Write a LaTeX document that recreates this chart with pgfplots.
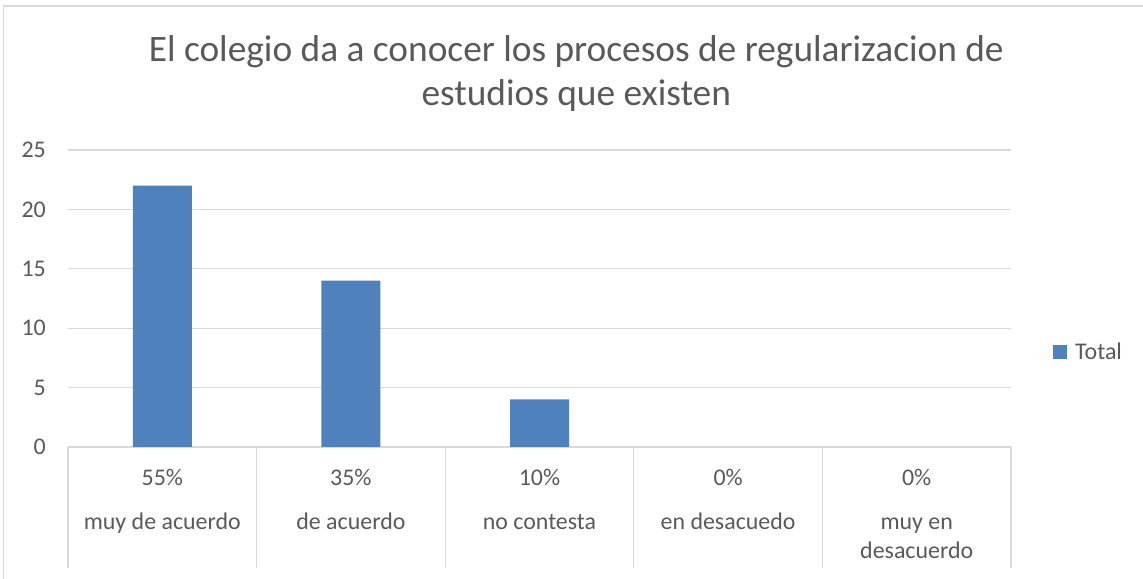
\documentclass[border=0pt]{standalone}
\usepackage{pgfplots}
\pgfplotsset{compat=1.18}
\usepackage{fontspec}
\setmainfont{Carlito}
\definecolor{txt}{HTML}{595959}
\definecolor{grd}{HTML}{D9D9D9}
\definecolor{barc}{HTML}{4F81BD}
\begin{document}
\begin{tikzpicture}
\useasboundingbox (0bp,0bp) rectangle (1143bp,579bp);
\draw[grd,line width=1.2bp] (3.5bp,0bp) -- (3.5bp,573bp) -- (1143bp,573bp);
\begin{axis}[
  at={(68bp,132bp)}, anchor=south west,
  scale only axis, width=943bp, height=297bp,
  xmin=-0.5, xmax=4.5, ymin=0, ymax=25,
  ytick={0,5,...,25},
  xtick={0,1,2,3,4},
  xticklabels={
    {55\%\\[15bp]muy de acuerdo},
    {35\%\\[15bp]de acuerdo},
    {10\%\\[15bp]no contesta},
    {0\%\\[15bp]en desacuedo},
    {0\%\\[15bp]muy en\\desacuerdo}},
  xticklabel style={font=\fontsize{24}{29}\selectfont, text=txt, align=center, anchor=north, inner sep=0pt, yshift=-22bp},
  yticklabel style={font=\fontsize{24}{29}\selectfont, text=txt, anchor=east, inner sep=0pt, xshift=-22bp},
  /pgf/number format/assume math mode=true,
  axis line style={draw=none},
  tick pos=left,
  major tick length=0pt,
  ymajorgrids, grid style={grd, line width=1.2bp},
  extra x ticks={-0.5,0.5,1.5,2.5,3.5,4.5},
  extra x tick labels={},
  extra x tick style={grid=none, major tick length=121bp, tick align=outside, tick style={grd, line width=1.2bp}},
  ybar, bar width=59bp,
  title={El colegio da a conocer los procesos de regularizacion de\\estudios que existen},
  title style={font=\fontsize{37.5}{44}\selectfont, text=txt, align=center, at={(rel axis cs:0.539,1)}, anchor=south, inner sep=0pt, yshift=32bp},
  legend style={at={(rel axis cs:1.0445,0.32)}, anchor=west, draw=none, fill=none, inner sep=0pt, font=\fontsize{24}{29}\selectfont, text=txt, /tikz/every odd column/.append style={column sep=6bp}},
  legend image code/.code={\fill[#1,draw=none] (0bp,-7bp) rectangle (14bp,7bp);},
]
\addplot[fill=barc, draw=none] coordinates {(0,22) (1,14) (2,4) (3,0) (4,0)};
\addlegendentry{Total}
\end{axis}
\end{tikzpicture}
\end{document}
